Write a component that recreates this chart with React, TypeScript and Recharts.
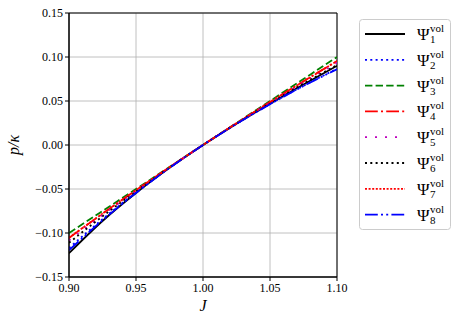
import { LineChart, Line, XAxis, YAxis, CartesianGrid, ReferenceArea } from 'recharts';

const jValues = [0.9, 0.925, 0.95, 0.975, 1.0, 1.025, 1.05, 1.075, 1.1];

const psi1 = [-0.123, -0.0864, -0.0546, -0.026, 0, 0.0242, 0.0469, 0.0687, 0.09];
const psi2 = [-0.1171, -0.0843, -0.054, -0.026, 0, 0.0241, 0.0465, 0.0673, 0.0866];
const psi3 = [-0.1, -0.075, -0.05, -0.025, 0, 0.025, 0.05, 0.075, 0.1];
const psi4 = [-0.1056, -0.078, -0.0513, -0.0253, 0, 0.0247, 0.0488, 0.0724, 0.0955];
const psi5 = [-0.1085, -0.0797, -0.052, -0.0255, 0, 0.0246, 0.0483, 0.0712, 0.0933];
const psi6 = [-0.1111, -0.0811, -0.0526, -0.0256, 0, 0.0244, 0.0476, 0.0698, 0.0909];
const psi7 = [-0.1054, -0.078, -0.0513, -0.0253, 0, 0.0247, 0.0488, 0.0723, 0.0953];
const psi8 = [-0.1195, -0.0855, -0.0545, -0.0261, 0, 0.024, 0.0463, 0.067, 0.0862];

const xTicks = [0.9, 0.95, 1.0, 1.05, 1.1];
const yTicks = [-0.15, -0.1, -0.05, 0, 0.05, 0.1, 0.15];

const series = [
  { key: 'p1', idx: '1', values: psi1, color: '#000000', dash: undefined },
  { key: 'p2', idx: '2', values: psi2, color: '#0000ff', dash: '2 3.3' },
  { key: 'p3', idx: '3', values: psi3, color: '#008000', dash: '7.4 3.2' },
  { key: 'p4', idx: '4', values: psi4, color: '#ff0000', dash: '12.8 3.2 2 3.2' },
  { key: 'p5', idx: '5', values: psi5, color: '#bf00bf', dash: '2 8' },
  { key: 'p6', idx: '6', values: psi6, color: '#000000', dash: '2 3.3' },
  { key: 'p7', idx: '7', values: psi7, color: '#ff0000', dash: '2 1.6' },
  { key: 'p8', idx: '8', values: psi8, color: '#0000ff', dash: '12.8 3.2 2 3.2 2 3.2' },
];

const data = jValues.map((j, i) => {
  const row: Record<string, number> = { J: j };
  series.forEach((s) => (row[s.key] = s.values[i]));
  return row;
});

const font = 'Liberation Serif, DejaVu Serif, serif';
const fmt = (v: number) => v.toFixed(2).replace('-', '\u2212');

export default function App() {
  return (
    <div style={{ position: 'absolute', left: 0, top: 0, width: 457, height: 323, background: '#fff' }}>
      <LineChart width={457} height={323} data={data} margin={{ top: 13, right: 120, bottom: 6, left: 9 }}>
        <CartesianGrid stroke="#b0b0b0" strokeWidth={0.8} horizontalValues={yTicks} verticalValues={xTicks} />
        <XAxis
          dataKey="J"
          type="number"
          domain={[0.9, 1.1]}
          ticks={xTicks}
          tickFormatter={fmt}
          height={40}
          stroke="#000"
          tickSize={4}
          tick={{ fill: '#000', fontSize: 12, fontFamily: font }}
          label={{ value: 'J', position: 'insideBottom', offset: 6, style: { fontStyle: 'italic', fontSize: 16, fontFamily: font, fill: '#000' } }}
          allowDataOverflow
        />
        <YAxis
          type="number"
          domain={[-0.15, 0.15]}
          ticks={yTicks}
          tickFormatter={fmt}
          width={60}
          stroke="#000"
          tickSize={4}
          tick={{ fill: '#000', fontSize: 12, fontFamily: font }}
          label={{ value: 'p/κ', angle: -90, position: 'insideLeft', offset: 4, style: { fontStyle: 'italic', fontSize: 16, fontFamily: font, fill: '#000', textAnchor: 'middle' } }}
          allowDataOverflow
        />
        <ReferenceArea x1={0.9} x2={1.1} y1={-0.15} y2={0.15} fill="none" stroke="#000" strokeWidth={1} ifOverflow="visible" />
        {series.map((s) => (
          <Line
            key={s.key}
            dataKey={s.key}
            type="monotone"
            stroke={s.color}
            strokeWidth={1.8}
            strokeDasharray={s.dash}
            dot={false}
            isAnimationActive={false}
          />
        ))}
      </LineChart>
      <svg width={457} height={323} style={{ position: 'absolute', left: 0, top: 0, pointerEvents: 'none' }}>
        <rect x={359.5} y={19.5} width={91} height={210} rx={3} fill="#fff" stroke="#cccccc" />
        {series.map((s, i) => {
          const y = 34 + i * 25.8;
          return (
            <g key={s.key}>
              <line x1={365} y1={y} x2={405} y2={y} stroke={s.color} strokeWidth={1.8} strokeDasharray={s.dash} />
              <text x={417} y={y + 6} fontSize={17} fontFamily={font} fill="#000">Ψ</text>
              <text x={430} y={y - 2} fontSize={11} fontFamily={font} fill="#000">vol</text>
              <text x={430} y={y + 9} fontSize={11} fontFamily={font} fill="#000">{s.idx}</text>
            </g>
          );
        })}
      </svg>
    </div>
  );
}
